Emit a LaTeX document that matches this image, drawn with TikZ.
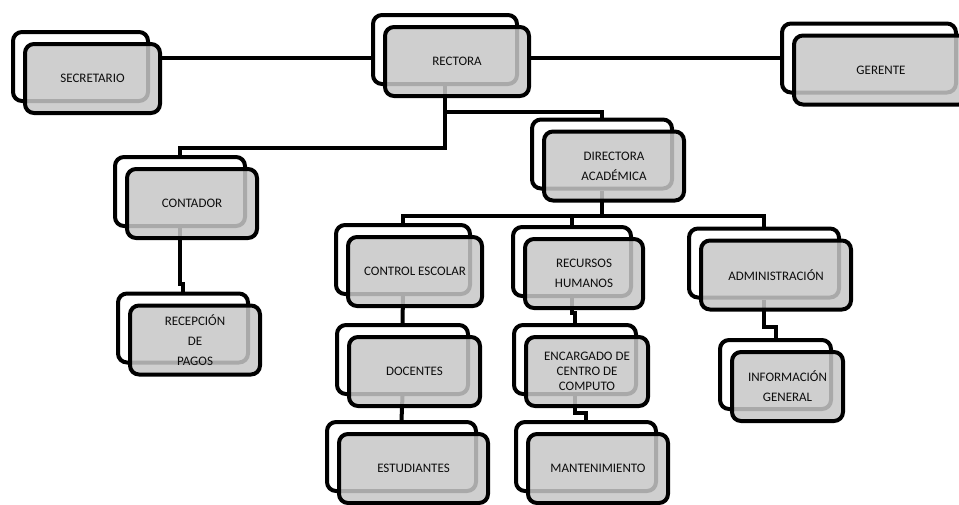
\documentclass[tikz,border=0pt]{standalone}
\usepackage{fontspec}
\setmainfont{Carlito}
\usetikzlibrary{backgrounds}

\newcommand{\puesto}[4]{%
  \node[sombra,minimum width=#3,xshift=-12pt,yshift=12pt] (#1-b) at (#2) {};
  \node[caja,minimum width=#3] (#1) at (#2) {#4};}

\begin{document}
\begin{tikzpicture}[x=1pt,y=-1pt,
  sombra/.style={draw=black,line width=4pt,rounded corners=9pt,fill=white,
    minimum height=69pt,inner sep=0pt},
  caja/.style={draw=black,line width=4pt,rounded corners=9pt,fill=black!22,
    fill opacity=0.85,text opacity=1,text=black!95,align=center,
    font=\fontsize{13}{20}\selectfont,minimum height=69pt,inner sep=0pt},
  linea/.style={line width=4pt}]
\useasboundingbox (0,0) rectangle (959,504);

\puesto{secretario}{92.5,78.5}{135pt}{SECRETARIO}
\puesto{rectora}{457,61.5}{144pt}{RECTORA}
\puesto{gerente}{881,70}{174pt}{GERENTE}
\puesto{contador}{192,203.5}{130pt}{CONTADOR}
\puesto{recepcion}{195,340}{130pt}{RECEPCIÓN\\DE\\PAGOS}
\puesto{directora}{614,166}{140pt}{DIRECTORA\\ACADÉMICA}
\puesto{control}{415,271.5}{134pt}{CONTROL ESCOLAR}
\puesto{recursos}{584,273.5}{118pt}{RECURSOS\\HUMANOS}
\puesto{admin}{776,275}{150pt}{ADMINISTRACIÓN}
\puesto{docentes}{414.5,371.5}{131pt}{DOCENTES}
\puesto{encargado}{587,371.5}{122pt}{ENCARGADO DE\\[-5pt]CENTRO DE\\[-5pt]COMPUTO}
\puesto{info}{787.5,386.5}{111pt}{INFORMACIÓN\\GENERAL}
\puesto{estudiantes}{413.5,468.5}{149pt}{ESTUDIANTES}
\puesto{mantenimiento}{598,468.5}{140pt}{MANTENIMIENTO}

\begin{pgfonlayer}{background}
\draw[linea] (secretario.east |- gerente-b.west) -- (rectora-b.west |- gerente-b.west);
\draw[linea] (rectora.east |- gerente-b.west) -- (gerente-b.west);
\draw[linea] (rectora-b.south) -- ++(0,26) -| (directora-b.north);
\draw[linea] (rectora-b.south) -- ++(0,62) -| (contador-b.north);
\draw[linea] (contador-b.south) -- ++(0,56) -| (recepcion-b.north);
\draw[linea] (directora-b.south) -- ++(0,25) coordinate (bus) -| (control-b.north);
\draw[linea] (bus) -| (recursos-b.north);
\draw[linea] (bus) -| (admin-b.north);
\draw[linea] (control-b.south) -- (docentes-b.north);
\draw[linea] (docentes-b.south) -- (estudiantes-b.north);
\draw[linea] (recursos-b.south) -- ++(0,15) -| (encargado-b.north);
\draw[linea] (encargado-b.south) -- ++(0,17) -| (mantenimiento-b.north);
\draw[linea] (admin-b.south) -- ++(0,27) -| (info-b.north);
\end{pgfonlayer}
\end{tikzpicture}
\end{document}
